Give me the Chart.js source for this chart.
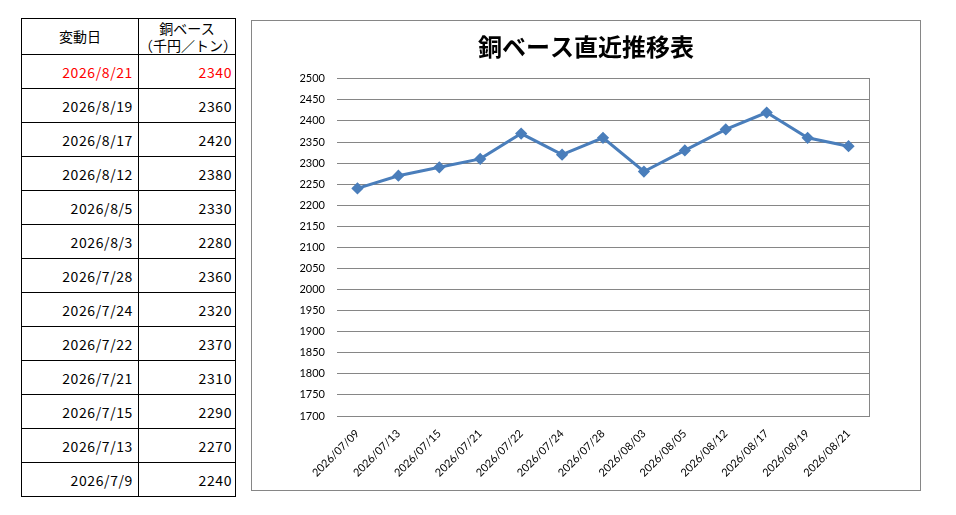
<!DOCTYPE html>
<html>
<head>
<meta charset="utf-8">
<script src="https://cdn.jsdelivr.net/npm/chart.js@4"></script>
<style>
  body { margin: 0; background: #fff; font-family: "Noto Sans CJK JP", sans-serif; }
  #tbl {
    position: absolute; left: 21px; top: 18px;
    border-collapse: collapse; font-size: 14px; color: #000;
  }
  #tbl td, #tbl th { border: 1px solid #000; padding: 0; font-weight: normal; }
  #tbl th { height: 35px; line-height: 17px; text-align: center; }
  #tbl td { height: 33px; text-align: right; letter-spacing: 0.6px; }
  #tbl td.d { width: 111px; padding-right: 5px; }
  #tbl td.v { width: 93px; padding-right: 3px; }
  #tbl th.d { width: 116px; }
  #tbl th.v { width: 96px; }
  #tbl tr.latest td { color: #ff0000; }
  #box {
    position: absolute; left: 251px; top: 20px;
    width: 668px; height: 469px; border: 1px solid #868686;
  }
</style>
</head>
<body>
<table id="tbl">
  <thead>
    <tr><th class="d">変動日</th><th class="v">銅ベース<br>（千円／トン）</th></tr>
  </thead>
  <tbody id="rows"></tbody>
</table>
<div id="box"><canvas id="copper_chart" width="668" height="469"></canvas></div>
<script>
// 銅ベース 推移データ
const dates = ['2026/07/09', '2026/07/13', '2026/07/15', '2026/07/21', '2026/07/22', '2026/07/24', '2026/07/28',
               '2026/08/03', '2026/08/05', '2026/08/12', '2026/08/17', '2026/08/19', '2026/08/21'];
const prices = [2240, 2270, 2290, 2310, 2370, 2320, 2360, 2280, 2330, 2380, 2420, 2360, 2340];
const yMin = 1700;
const yMax = 2500;
const yStep = 50;

// 左の表 (新しい順)
let rows = document.getElementById('rows');
for (let i = dates.length - 1; i >= 0; i--) {
  let p = dates[i].split('/');
  let shortDate = p[0] + '/' + parseInt(p[1]) + '/' + parseInt(p[2]);
  let tr = document.createElement('tr');
  if (i == dates.length - 1) tr.className = 'latest';
  tr.innerHTML = '<td class="d">' + shortDate + '</td><td class="v">' + prices[i] + '</td>';
  rows.appendChild(tr);
}

// 折れ線グラフ
const lineColor = '#4a7ebb';
const gridColor = '#868686';
const tickFont = { family: 'Lato', size: 11 };

new Chart(document.getElementById('copper_chart'), {
  type: 'line',
  data: {
    labels: dates,
    datasets: [{
      data: prices,
      borderColor: lineColor,
      backgroundColor: lineColor,
      borderWidth: 3,
      tension: 0,
      pointStyle: 'rectRot',
      pointRadius: 4,
      pointHoverRadius: 4
    }]
  },
  options: {
    responsive: false,
    animation: false,
    layout: { padding: 0 },
    plugins: {
      legend: { display: false },
      tooltip: { enabled: false },
      title: {
        display: true,
        text: '銅ベース直近推移表',
        color: '#000',
        font: { family: 'Noto Sans CJK JP', size: 24, weight: 'bold' },
        padding: { top: 11, bottom: 18 }
      }
    },
    scales: {
      x: {
        offset: true,
        grid: { display: false },
        border: { display: false },
        ticks: {
          color: '#000',
          font: tickFont,
          minRotation: 45,
          maxRotation: 45,
          autoSkip: false,
          padding: 3
        },
        afterFit: function(scale) { scale.height = 74; }
      },
      y: {
        min: yMin,
        max: yMax,
        grid: { color: gridColor, lineWidth: 1, drawTicks: false },
        border: { display: false },
        ticks: {
          stepSize: yStep, color: '#000', font: tickFont, padding: 12,
          callback: function(v) { return String(v); }
        },
        afterFit: function(scale) { scale.width = 85; }
      },
      y2: {
        position: 'right',
        min: yMin,
        max: yMax,
        grid: { display: false },
        border: { display: true, color: gridColor, width: 1 },
        ticks: { display: false },
        afterFit: function(scale) { scale.width = 51; }
      }
    }
  }
});
</script>
</body>
</html>
